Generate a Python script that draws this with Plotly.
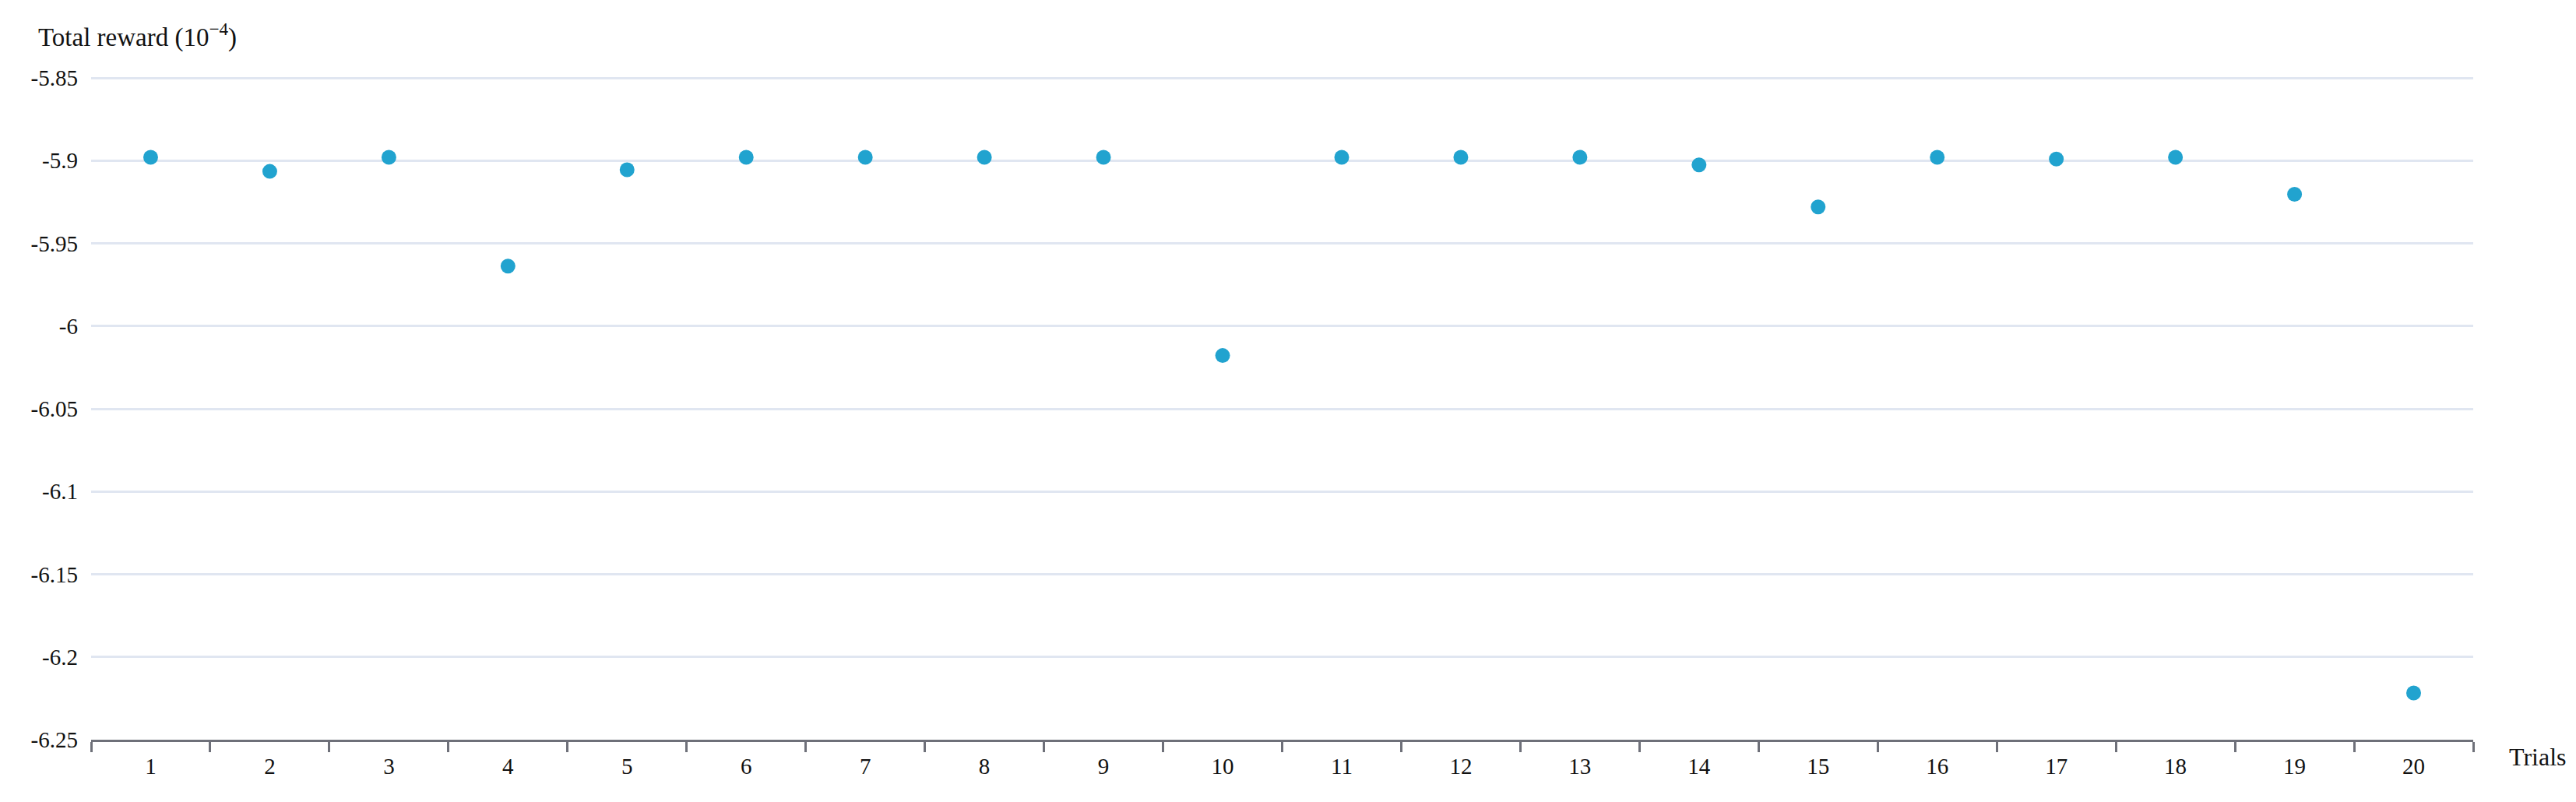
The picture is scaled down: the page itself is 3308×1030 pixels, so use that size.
import plotly.graph_objects as go

trials = [str(i) for i in range(1, 21)]
total_reward = [-5.898, -5.9065, -5.898, -5.9637, -5.9055, -5.898, -5.898, -5.898, -5.898, -6.0178,
                -5.898, -5.898, -5.898, -5.9026, -5.928, -5.898, -5.899, -5.898, -5.9203, -6.2218]
y_ticks = [-6.25, -6.2, -6.15, -6.1, -6.05, -6.0, -5.95, -5.9, -5.85]
y_tick_text = ["-6.25", "-6.2", "-6.15", "-6.1", "-6.05", "-6", "-5.95", "-5.9", "-5.85"]

FONT = "Liberation Serif, Times New Roman, serif"
# page body has an 8px default margin; figure coords = page coords - 8
W, H = 3300, 1022
ML, MR, MT, MB = 109, 132, 91, 80
pw = W - ML - MR
ph = H - MT - MB

fig = go.Figure()
fig.add_trace(go.Scatter(
    x=trials, y=total_reward, mode="markers",
    marker=dict(size=19, color="#21a3cf", line=dict(width=0)),
    showlegend=False,
))

fig.update_layout(
    width=W, height=H,
    margin=dict(l=ML, r=MR, t=MT, b=MB),
    paper_bgcolor="white", plot_bgcolor="white",
    font=dict(family=FONT, size=29, color="#111111"),
    xaxis=dict(
        type="category", tickson="boundaries", ticks="outside", ticklen=13,
        tickwidth=3, tickcolor="#6e7079", showline=True, linecolor="#6e7079",
        linewidth=3, showgrid=False, zeroline=False, ticklabelstandoff=6,
        tickfont=dict(family=FONT, size=29, color="#111111"),
        range=[-0.5, 19.5],
    ),
    yaxis=dict(
        range=[-6.25, -5.8495], tickvals=y_ticks, ticktext=y_tick_text,
        showgrid=True, gridcolor="#e0e6f1", gridwidth=3, zeroline=False,
        showline=False, ticks="", ticklabelstandoff=16,
        tickfont=dict(family=FONT, size=29, color="#111111"),
    ),
    annotations=[
        dict(text="Total reward (10<sup>−4</sup>)", xref="paper", yref="paper",
             x=(39 - ML) / pw, y=(H - MB - 37) / ph, xanchor="left", yanchor="middle",
             showarrow=False, font=dict(family=FONT, size=33, color="#111111")),
        dict(text="Trials", xref="paper", yref="paper",
             x=(3212 - ML) / pw, y=(H - MB - 964) / ph, xanchor="left", yanchor="middle",
             showarrow=False, font=dict(family=FONT, size=32, color="#111111")),
    ],
)

fig.write_html("out.html")
